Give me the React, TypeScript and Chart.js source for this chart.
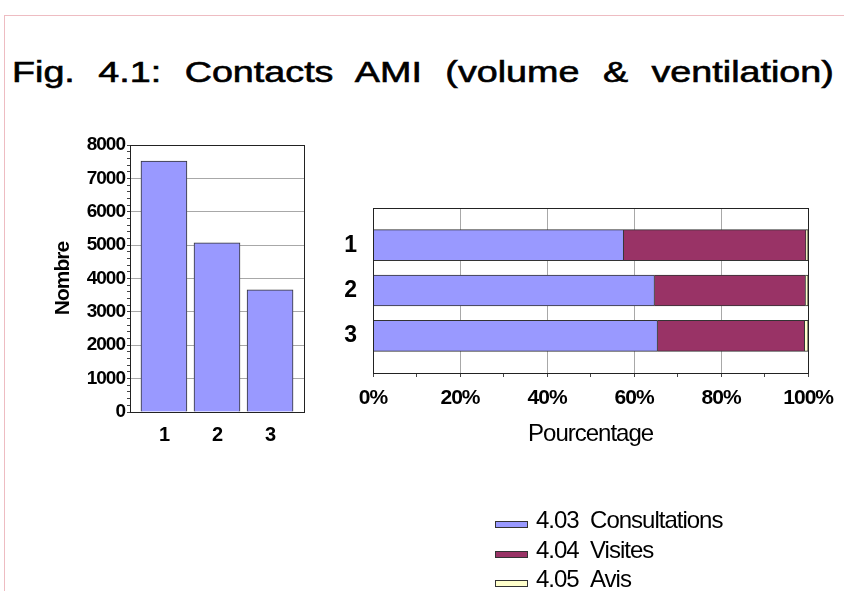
import React, { useEffect, useRef } from 'react';
import { Chart, registerables } from 'chart.js';

Chart.register(...registerables);

// ---------- data ----------
const categories = ['1', '2', '3'];
const nombre = [7520, 5070, 3660];
const seriesLabels = ['4.03  Consultations', '4.04  Visites', '4.05  Avis'];
const consultations = [57.6, 64.7, 65.4];
const visites = [41.9, 34.7, 33.8];
const avis = [0.5, 0.6, 0.8];
const countTicks = [0, 1000, 2000, 3000, 4000, 5000, 6000, 7000, 8000];
const pctTicks = [0, 20, 40, 60, 80, 100];

const TITLE = 'Fig. 4.1: Contacts AMI (volume & ventilation)';
const FONT = '"Liberation Sans", Arial, Helvetica, sans-serif';

const tightText = {
  id: 'tightText',
  beforeDraw(chart: any) {
    chart.ctx.letterSpacing = '-1px';
  },
};

const framePlugin = {
  id: 'frame',
  afterDraw(chart: any) {
    const { ctx, chartArea: a } = chart;
    ctx.save();
    ctx.strokeStyle = '#222';
    ctx.lineWidth = 1;
    ctx.strokeRect(
      Math.round(a.left) + 0.5,
      Math.round(a.top) + 0.5,
      Math.round(a.right) - Math.round(a.left),
      Math.round(a.bottom) - Math.round(a.top)
    );
    ctx.restore();
  },
};

const legendPlugin = {
  id: 'columnLegend',
  afterDraw(chart: any) {
    const { ctx, chartArea: a } = chart;
    ctx.save();
    ctx.letterSpacing = '-1px';
    ctx.font = `24px ${FONT}`;
    ctx.textBaseline = 'alphabetic';
    ctx.textAlign = 'left';
    chart.data.datasets.forEach((ds: any, i: number) => {
      const x = Math.round(a.left + 122);
      const base = Math.round(a.bottom + 155 + i * 29.5);
      ctx.fillStyle = ds.backgroundColor;
      ctx.fillRect(x, base - 6, 32, 6);
      ctx.strokeStyle = '#333';
      ctx.lineWidth = 1;
      ctx.strokeRect(x + 0.5, base - 6.5, 32, 6);
      ctx.fillStyle = '#000';
      ctx.fillText(ds.label, x + 41, base);
    });
    ctx.restore();
  },
};

function minorTicks(min: number, max: number, step: number) {
  const out: { value: number }[] = [];
  for (let v = min; v <= max + 1e-9; v += step) out.push({ value: v });
  return out;
}

export default function App() {
  const leftRef = useRef<HTMLCanvasElement>(null);
  const rightRef = useRef<HTMLCanvasElement>(null);

  useEffect(() => {
    const left = new Chart(leftRef.current!, {
      type: 'bar',
      data: {
        datasets: [
          {
            label: 'Nombre',
            data: categories.map((_, i) => ({ x: i + 1, y: nombre[i] })),
            backgroundColor: '#9999FF',
            borderColor: '#333',
            borderWidth: 1,
            barThickness: 46,
          } as any,
        ],
      },
      options: {
        animation: false,
        responsive: false,
        maintainAspectRatio: false,
        layout: { padding: { top: 15, right: 16, bottom: 0, left: 0 } },
        plugins: { legend: { display: false }, tooltip: { enabled: false } },
        scales: {
          x: {
            type: 'linear',
            min: 0.36,
            max: 3.64,
            offset: false,
            afterBuildTicks: (s: any) => {
              s.ticks = categories.map((_, i) => ({ value: i + 1 }));
            },
            ticks: {
              callback: (v: any) => categories[Number(v) - 1] ?? '',
              font: { family: FONT, size: 20, weight: 'bold' },
              color: '#000',
              padding: 11,
              maxRotation: 0,
              autoSkip: false,
            },
            grid: { display: false, drawTicks: false },
            border: { display: true, color: '#222' },
            afterFit: (s: any) => {
              s.height = 38;
            },
          } as any,
          y: {
            type: 'linear',
            min: countTicks[0],
            max: countTicks[countTicks.length - 1],
            afterBuildTicks: (s: any) => {
              s.ticks = minorTicks(countTicks[0], countTicks[countTicks.length - 1], 200);
            },
            ticks: {
              autoSkip: false,
              callback: (v: any) => (countTicks.includes(Number(v)) ? String(v) : ''),
              font: { family: FONT, size: 19, weight: 'bold' },
              color: '#000',
              padding: 2,
            },
            grid: {
              color: (c: any) =>
                c.tick && countTicks.includes(c.tick.value) && c.tick.value > 0 ? '#a8a8a8' : 'rgba(0,0,0,0)',
              tickColor: '#444',
              tickLength: 3,
            },
            border: { color: '#222' },
            title: {
              display: true,
              text: 'Nombre',
              font: { family: FONT, size: 21, weight: 'bold' },
              color: '#000',
              padding: { top: 21, bottom: 0 },
            },
            afterFit: (s: any) => {
              s.width = 100;
              s.paddingTop = 0;
              s.paddingBottom = 0;
            },
          } as any,
        },
      },
      plugins: [tightText, framePlugin],
    });

    const colors = ['#9999FF', '#993366', '#FFFFCC'];
    const series = [consultations, visites, avis];
    const right = new Chart(rightRef.current!, {
      type: 'bar',
      data: {
        datasets: series.map((vals, k) => ({
          label: seriesLabels[k],
          data: categories.map((_, i) => ({ x: vals[i], y: i + 1 })),
          backgroundColor: colors[k],
          borderColor: '#333',
          borderWidth: 1,
          barThickness: 31,
          stack: 'pct',
        })) as any,
      },
      options: {
        indexAxis: 'y',
        animation: false,
        responsive: false,
        maintainAspectRatio: false,
        layout: { padding: { top: 13, right: 34, bottom: 138, left: 0 } },
        plugins: { legend: { display: false }, tooltip: { enabled: false } },
        scales: {
          x: {
            type: 'linear',
            stacked: true,
            min: pctTicks[0],
            max: pctTicks[pctTicks.length - 1],
            afterBuildTicks: (s: any) => {
              s.ticks = minorTicks(pctTicks[0], pctTicks[pctTicks.length - 1], 10);
            },
            ticks: {
              autoSkip: false,
              maxRotation: 0,
              callback: (v: any) => (pctTicks.includes(Number(v)) ? `${v}%` : ''),
              font: { family: FONT, size: 21, weight: 'bold' },
              color: '#000',
              padding: 9,
            },
            grid: {
              color: (c: any) =>
                c.tick && pctTicks.includes(c.tick.value) && c.tick.value > 0 && c.tick.value < 100
                  ? '#a8a8a8'
                  : 'rgba(0,0,0,0)',
              tickColor: '#444',
              tickLength: 4,
            },
            border: { color: '#222' },
            title: {
              display: true,
              text: 'Pourcentage',
              font: { family: FONT, size: 24 },
              color: '#000',
              padding: { top: 0, bottom: 4 },
            },
            afterFit: (s: any) => {
              s.height = 80;
            },
          } as any,
          y: {
            type: 'linear',
            reverse: true,
            min: 0.18,
            max: 3.82,
            offset: false,
            afterBuildTicks: (s: any) => {
              s.ticks = categories.map((_, i) => ({ value: i + 1 }));
            },
            ticks: {
              autoSkip: false,
              callback: (v: any) => categories[Number(v) - 1] ?? '',
              font: { family: FONT, size: 23, weight: 'bold' },
              color: '#000',
              padding: 17,
            },
            grid: { display: false, drawTicks: false },
            border: { color: '#222' },
            afterFit: (s: any) => {
              s.width = 53;
              s.paddingTop = 0;
              s.paddingBottom = 0;
            },
          } as any,
        },
      },
      plugins: [tightText, framePlugin, legendPlugin],
    });

    return () => {
      left.destroy();
      right.destroy();
    };
  }, []);

  return (
    <div
      style={{
        position: 'absolute',
        left: 0,
        top: 0,
        width: 844,
        height: 591,
        overflow: 'hidden',
        background: '#fff',
      }}
    >
      <div
        style={{
          position: 'absolute',
          left: 4,
          top: 15,
          width: 860,
          height: 600,
          borderTop: '1px solid #eebcc2',
          borderLeft: '1px solid #eebcc2',
        }}
      />
      <div
        style={{
          position: 'absolute',
          left: 12,
          top: 58,
          fontFamily: FONT,
          fontSize: 29,
          lineHeight: '29px',
          wordSpacing: 10,
          whiteSpace: 'nowrap',
          color: '#000',
          WebkitTextStroke: '0.6px #000',
          transform: 'scaleX(1.3)',
          transformOrigin: 'left top',
        }}
      >
        {TITLE}
      </div>
      <canvas
        ref={leftRef}
        width={290}
        height={320}
        style={{ position: 'absolute', left: 30, top: 130, width: 290, height: 320 }}
      />
      <canvas
        ref={rightRef}
        width={524}
        height={396}
        style={{ position: 'absolute', left: 320, top: 195, width: 524, height: 396 }}
      />
    </div>
  );
}
